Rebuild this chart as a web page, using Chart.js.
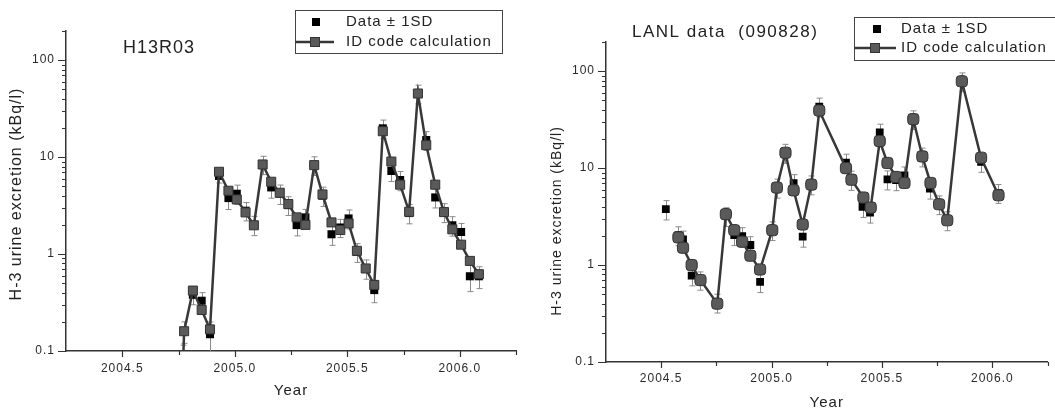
<!DOCTYPE html>
<html>
<head>
<meta charset="utf-8">
<script src="https://cdn.jsdelivr.net/npm/chart.js@4.4.1/dist/chart.umd.min.js"></script>
<style>
  html, body { margin: 0; padding: 0; background: #fff; }
  body { width: 1055px; height: 408px; overflow: hidden; position: relative; }
  canvas { position: absolute; top: 0; }
</style>
</head>
<body>
<canvas id="left" width="527" height="408" style="left:0;width:527px;height:408px"></canvas>
<canvas id="right" width="528" height="408" style="left:527px;width:528px;height:408px"></canvas>
<script>
// ---------- shared axis ticks ----------
const xTicks = [2004.5, 2004.75, 2005.0, 2005.25, 2005.5, 2005.75, 2006.0, 2006.25];
const xLabelValues = [2004.5, 2005.0, 2005.5, 2006.0];
const yTicks = [0.1, 0.2, 0.3, 0.4, 0.5, 0.6, 0.7, 0.8, 0.9,
                1, 2, 3, 4, 5, 6, 7, 8, 9,
                10, 20, 30, 40, 50, 60, 70, 80, 90,
                100, 200];
const yLabelValues = [0.1, 1, 10, 100];

// ---------- left panel: H13R03 ----------
const leftModelYears = [2004.768, 2004.775, 2004.814, 2004.853, 2004.890, 2004.930, 2004.972, 2005.009, 2005.048, 2005.085,
  2005.124, 2005.162, 2005.200, 2005.238, 2005.275, 2005.314, 2005.353, 2005.390, 2005.430, 2005.469,
  2005.506, 2005.543, 2005.582, 2005.620, 2005.658, 2005.696, 2005.735, 2005.775, 2005.814, 2005.851,
  2005.891, 2005.930, 2005.967, 2006.006, 2006.045, 2006.085];
const leftModelValues = [0.05, 0.16, 0.42, 0.265, 0.167, 7.06, 4.5, 3.66, 2.69, 1.98,
  8.4, 5.57, 4.29, 3.28, 2.39, 2.0, 8.27, 4.12, 2.12, 1.77,
  2.07, 1.08, 0.71, 0.48, 18.5, 9.0, 5.2, 2.73, 45.3, 13.3,
  5.2, 2.71, 1.8, 1.25, 0.85, 0.62];
const leftDataYears = leftModelYears;
const leftDataValues = [0.085, 0.16, 0.38, 0.33, 0.149, 6.4, 3.78, 4.19, 2.8, 2.0,
  8.4, 4.87, 4.2, 3.2, 1.99, 2.39, 8.27, 4.0, 1.6, 1.88,
  2.33, 1.05, 0.71, 0.425, 19.8, 7.2, 5.8, 2.65, 45.3, 15.0,
  3.84, 2.71, 1.98, 1.69, 0.59, 0.59];
const leftDataSD = [0.03, 0.04, 0.08, 0.07, 0.05, 1.0, 0.9, 0.95, 0.6, 0.45,
  1.8, 1.1, 0.95, 0.7, 0.45, 0.5, 1.8, 0.9, 0.37, 0.4,
  0.52, 0.23, 0.16, 0.11, 4.3, 1.6, 1.3, 0.6, 9.9, 3.3,
  0.85, 0.6, 0.45, 0.38, 0.18, 0.15];

// ---------- right panel: LANL data (090828) ----------
const rightModelYears = [2004.578, 2004.599, 2004.638, 2004.678, 2004.754, 2004.793, 2004.831, 2004.867, 2004.904, 2004.948,
  2005.003, 2005.024, 2005.063, 2005.100, 2005.141, 2005.180, 2005.216, 2005.337, 2005.362, 2005.416,
  2005.449, 2005.490, 2005.525, 2005.564, 2005.602, 2005.642, 2005.683, 2005.720, 2005.759, 2005.796,
  2005.862, 2005.949, 2006.028];
const rightModelValues = [1.93, 1.51, 1.0, 0.70, 0.40, 3.35, 2.29, 1.74, 1.25, 0.90,
  2.29, 6.3, 14.4, 5.9, 2.62, 6.76, 39.3, 10.0, 7.6, 4.97,
  3.92, 19.0, 11.3, 8.1, 7.03, 32.0, 13.2, 7.03, 4.24, 2.9,
  78.7, 12.8, 5.25];
const rightDataYears = [2004.521, 2004.578, 2004.599, 2004.638, 2004.678, 2004.754, 2004.793, 2004.831, 2004.867, 2004.904,
  2004.948, 2005.003, 2005.024, 2005.063, 2005.100, 2005.141, 2005.180, 2005.216, 2005.337, 2005.362,
  2005.412, 2005.446, 2005.490, 2005.525, 2005.564, 2005.602, 2005.642, 2005.683, 2005.717, 2005.759,
  2005.796, 2005.862, 2005.949, 2006.028];
const rightDataValues = [3.77, 2.03, 1.84, 0.78, 0.70, 0.41, 3.2, 2.04, 1.99, 1.61,
  0.67, 2.29, 6.3, 14.4, 7.0, 1.96, 6.8, 43.2, 11.4, 7.6,
  3.98, 3.48, 23.3, 7.66, 7.5, 8.43, 32.0, 13.2, 6.14, 4.24,
  2.9, 78.7, 11.6, 5.55];
const rightDataSD = [0.85, 0.45, 0.4, 0.17, 0.15, 0.09, 0.7, 0.45, 0.44, 0.35,
  0.15, 0.5, 1.4, 3.2, 1.55, 0.43, 1.5, 9.5, 2.5, 1.7,
  0.88, 0.77, 5.1, 1.7, 1.65, 1.85, 7.0, 2.9, 1.35, 0.93,
  0.64, 17.3, 2.55, 1.22];

const legendData = 'Data \u00B1 1SD';
const legendModel = 'ID code calculation';
const yTitle = 'H-3 urine excretion (kBq/l)';
const xTitle = 'Year';

const FONT = "'Liberation Sans', Arial, Helvetica, sans-serif";
Chart.defaults.font.family = FONT;
Chart.defaults.color = '#2a2a2a';

function pts(xs, ys) { return xs.map((x, i) => ({ x: x, y: ys[i] })); }

function txt(ctx, s, x, y, size, spacing, align) {
  ctx.save();
  ctx.font = size + 'px ' + FONT;
  ctx.letterSpacing = spacing + 'px';
  ctx.fillStyle = '#222';
  ctx.textAlign = align || 'left';
  ctx.textBaseline = 'middle';
  ctx.fillText(s, x, y);
  ctx.restore();
}

function makeDecor(p) {
  return {
    id: 'decor',
    beforeDraw(chart) { chart.ctx.letterSpacing = '1px'; },
    beforeDatasetsDraw(chart) {
      const { ctx, chartArea: a, scales: { x, y } } = chart;
      const ds = chart.data.datasets.find(d => d.sd);
      ctx.save();
      ctx.beginPath();
      ctx.rect(a.left, a.top, a.right - a.left, a.bottom - a.top);
      ctx.clip();
      ctx.strokeStyle = '#8a8a8a';
      ctx.lineWidth = 1;
      ds.data.forEach((pt, i) => {
        const s = ds.sd[i];
        const px = Math.round(x.getPixelForValue(pt.x)) + 0.5;
        const top = y.getPixelForValue(pt.y + s);
        const bot = y.getPixelForValue(Math.max(pt.y - s, 0.001));
        ctx.beginPath();
        ctx.moveTo(px, top); ctx.lineTo(px, bot);
        ctx.moveTo(px - 3, top); ctx.lineTo(px + 3, top);
        ctx.moveTo(px - 3, bot); ctx.lineTo(px + 3, bot);
        ctx.stroke();
      });
      ctx.restore();
    },
    afterDraw(chart) {
      const { ctx, chartArea: a, scales: { x, y } } = chart;
      ctx.save();
      // tick marks (outward)
      ctx.strokeStyle = '#333';
      ctx.lineWidth = 1.2;
      ctx.beginPath();
      xTicks.forEach(v => {
        const px = Math.round(x.getPixelForValue(v)) + 0.5;
        const len = xLabelValues.includes(v) ? 6 : 4;
        ctx.moveTo(px, a.bottom); ctx.lineTo(px, a.bottom + len);
      });
      yTicks.forEach(v => {
        const py = Math.round(y.getPixelForValue(v)) + 0.5;
        const len = yLabelValues.includes(v) ? 8 : 4;
        ctx.moveTo(a.left - len, py); ctx.lineTo(a.left, py);
      });
      ctx.stroke();

      // y axis title
      ctx.save();
      ctx.translate(p.yTitle.x, p.yTitle.y);
      ctx.rotate(-Math.PI / 2);
      txt(ctx, yTitle, 0, 0, p.yTitle.size, 1, 'center');
      ctx.restore();

      // panel title
      txt(ctx, p.title.text, p.title.x, p.title.y, p.title.size, p.title.spacing, 'left');

      // legend
      const L = p.legend;
      ctx.strokeStyle = '#444';
      ctx.lineWidth = 1;
      ctx.strokeRect(L.box[0], L.box[1], L.box[2], L.box[3]);
      ctx.fillStyle = '#000';
      ctx.fillRect(L.sq1[0] - 4, L.sq1[1] - 4, 8, 8);
      txt(ctx, legendData, L.textX, L.sq1[1], 15, 1, 'left');
      ctx.strokeStyle = '#383838';
      ctx.lineWidth = 2.5;
      ctx.beginPath();
      ctx.moveTo(L.line[0], L.line[2]); ctx.lineTo(L.line[1], L.line[2]);
      ctx.stroke();
      ctx.fillStyle = '#5a5a5a';
      ctx.fillRect(L.sq2[0] - 4.5, L.sq2[1] - 4.5, 9, 9);
      ctx.strokeStyle = '#333';
      ctx.lineWidth = 1;
      ctx.strokeRect(L.sq2[0] - 4.5, L.sq2[1] - 4.5, 9, 9);
      txt(ctx, legendModel, L.textX, L.sq2[1], 15, 1, 'left');
      ctx.restore();
    }
  };
}

function makeChart(id, p) {
  return new Chart(document.getElementById(id), {
    type: 'scatter',
    data: {
      datasets: [
        {
          label: legendModel,
          data: pts(p.modelYears, p.modelValues),
          showLine: true,
          tension: 0,
          borderColor: '#383838',
          borderWidth: 2.5,
          pointStyle: p.modelStyle,
          pointRadius: p.modelRadius,
          pointBackgroundColor: '#5a5a5a',
          pointBorderColor: '#333',
          pointBorderWidth: 1,
          order: 0
        },
        {
          label: legendData,
          data: pts(p.dataYears, p.dataValues),
          sd: p.dataSD,
          showLine: false,
          pointStyle: 'rect',
          pointRadius: p.dataRadius,
          pointBackgroundColor: '#000',
          pointBorderColor: '#000',
          pointBorderWidth: 0,
          clip: 0,
          order: 1
        }
      ]
    },
    options: {
      responsive: false,
      animation: false,
      devicePixelRatio: 1,
      events: [],
      layout: { padding: { left: 0, top: p.padTop, right: p.padRight, bottom: 0 } },
      plugins: { legend: { display: false }, tooltip: { enabled: false }, title: { display: false } },
      scales: {
        x: {
          type: 'linear',
          min: 2004.25,
          max: 2006.25,
          afterBuildTicks: s => { s.ticks = xTicks.map(v => ({ value: v })); },
          afterFit: s => { s.height = p.xHeight; },
          grid: { display: false, drawTicks: true, tickLength: 7 },
          border: { display: true, color: '#333', width: 1.5 },
          ticks: {
            autoSkip: false,
            maxRotation: 0,
            padding: p.xTickPad,
            font: { size: 12 },
            color: '#2a2a2a',
            callback: v => xLabelValues.includes(v) ? v.toFixed(1) : ''
          },
          title: { display: true, text: xTitle, font: { size: 15 }, color: '#222', padding: { top: 0, bottom: p.xTitlePad } }
        },
        y: {
          type: 'logarithmic',
          min: 0.1,
          max: 200,
          afterBuildTicks: s => { s.ticks = yTicks.map(v => ({ value: v, major: yLabelValues.includes(v) })); },
          afterFit: s => { s.width = p.yWidth; },
          grid: { display: false, drawTicks: true, tickLength: 7 },
          border: { display: true, color: '#333', width: 1.5 },
          ticks: {
            autoSkip: false,
            padding: 4,
            font: { size: 12 },
            color: '#2a2a2a',
            callback: v => yLabelValues.includes(v) ? String(v) : ''
          }
        }
      }
    },
    plugins: [makeDecor(p)]
  });
}

makeChart('left', {
  modelYears: leftModelYears, modelValues: leftModelValues,
  dataYears: leftDataYears, dataValues: leftDataValues, dataSD: leftDataSD,
  modelStyle: 'rect', modelRadius: 6.4, dataRadius: 5.7,
  padTop: 31, padRight: 11, xHeight: 57, yWidth: 66, xTickPad: 3, xTitlePad: 8,
  yTitle: { x: 17, y: 194, size: 16 },
  title: { text: 'H13R03', x: 123, y: 48, size: 18, spacing: 1 },
  legend: { box: [295.5, 10.5, 207, 43], sq1: [316, 22], textX: 346, line: [295, 334, 42], sq2: [315, 42] }
});

makeChart('right', {
  modelYears: rightModelYears, modelValues: rightModelValues,
  dataYears: rightDataYears, dataValues: rightDataValues, dataSD: rightDataSD,
  modelStyle: 'rectRounded', modelRadius: 6.5, dataRadius: 5.5,
  padTop: 42, padRight: 1, xHeight: 46, yWidth: 79, xTickPad: 2, xTitlePad: -3.5,
  yTitle: { x: 30, y: 221, size: 14 },
  title: { text: 'LANL data  (090828)', x: 105, y: 32, size: 17, spacing: 1.5 },
  legend: { box: [327.5, 17.5, 300, 43], sq1: [350, 29], textX: 374, line: [328, 369, 48], sq2: [348, 48] }
});
</script>
</body>
</html>
